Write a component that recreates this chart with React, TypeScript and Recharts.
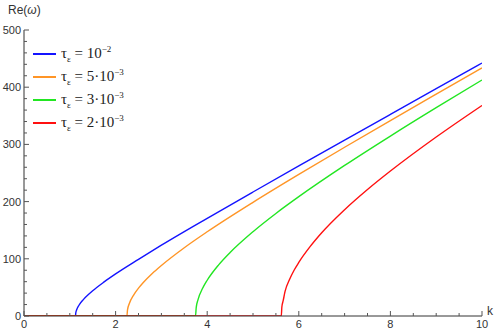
import { LineChart, Line, XAxis, YAxis } from "recharts";

// Re(ω) vs k
const kBlue = [0, 1.124, 1.13, 1.15, 1.2, 1.3, 1.4, 1.5, 1.75, 2, 2.5, 3, 4, 5, 6, 7, 8, 9, 10];
const reBlue = [0, 0, 5.2, 10.9, 18.8, 29.1, 37.1, 44.2, 59.6, 73.6, 99.1, 123.8, 170.8, 216.8, 262.3, 307.5, 352.5, 397.4, 442.2];

const kOrange = [0, 2.247, 2.26, 2.3, 2.4, 2.5, 2.6, 2.8, 3, 3.5, 4, 5, 6, 7, 8, 9, 10];
const reOrange = [0, 0, 10.8, 21.8, 37.5, 48.8, 58.2, 74.4, 88.4, 119.4, 147.3, 198.8, 247.6, 295.0, 341.7, 387.8, 433.6];

const kGreen = [0, 3.745, 3.76, 3.8, 3.9, 4, 4.25, 4.5, 5, 5.5, 6, 7, 8, 9, 10];
const reGreen = [0, 0, 14.6, 28.6, 48.4, 62.5, 89.4, 111.0, 147.4, 179.3, 208.6, 263.2, 314.6, 364.2, 412.6];

const kRed = [0, 5.618, 5.63, 5.66, 5.7, 5.8, 5.9, 6, 6.25, 6.5, 7, 7.5, 8, 9, 10];
const reRed = [0, 0, 15.8, 27.2, 42.9, 64.2, 80.4, 93.7, 121.6, 145.5, 185.8, 221.1, 253.4, 312.9, 368.1];

const xTicks = [0, 0.5, 1, 1.5, 2, 2.5, 3, 3.5, 4, 4.5, 5, 5.5, 6, 6.5, 7, 7.5, 8, 8.5, 9, 9.5, 10];
const yTicks = [
  0, 20, 40, 60, 80, 100, 120, 140, 160, 180, 200, 220, 240, 260, 280, 300, 320, 340, 360, 380, 400,
  420, 440, 460, 480, 500,
];

const legendExps = ["10", "5·10", "3·10", "2·10"];
const legendPows = ["−2", "−3", "−3", "−3"];

const colors = ["#1414ff", "#ff9526", "#22e622", "#ff1010"];

const toPoints = (ks: number[], vs: number[]) => ks.map((k, i) => ({ k, re: vs[i] }));

const series = [
  toPoints(kBlue, reBlue),
  toPoints(kOrange, reOrange),
  toPoints(kGreen, reGreen),
  toPoints(kRed, reRed),
];

const tickFont = { fontFamily: "'Liberation Sans', Arial, sans-serif", fontSize: 11, fill: "#333" };

function XTick(props: any) {
  const { x, y, payload } = props;
  const v = payload.value;
  const major = v % 2 === 0;
  return (
    <g>
      <line x1={x} x2={x} y1={y} y2={y - (major ? 5 : 3)} stroke="#555" strokeWidth={1} />
      {major && (
        <text x={x} y={y + 12} textAnchor="middle" {...tickFont}>
          {v}
        </text>
      )}
    </g>
  );
}

function YTick(props: any) {
  const { x, y, payload } = props;
  const v = payload.value;
  const major = v % 100 === 0;
  return (
    <g>
      <line x1={x} x2={x + (major ? 5 : 3)} y1={y} y2={y} stroke="#555" strokeWidth={1} />
      {major && (
        <text x={x - 3} y={y + 4} textAnchor="end" {...tickFont}>
          {v}
        </text>
      )}
    </g>
  );
}

export default function App() {
  return (
    <div style={{ position: "absolute", left: 0, top: 0, width: 503, height: 334, background: "#fff" }}>
      <LineChart width={503} height={334} margin={{ top: 30, right: 21, left: 0, bottom: 0 }}>
        <XAxis
          type="number"
          dataKey="k"
          domain={[0, 10]}
          ticks={xTicks}
          interval={0}
          tickSize={0}
          tickMargin={0}
          tick={<XTick />}
          axisLine={{ stroke: "#333" }}
          height={18}
          allowDataOverflow
        />
        <YAxis
          type="number"
          domain={[0, 500]}
          ticks={yTicks}
          interval={0}
          tickSize={0}
          tickMargin={0}
          tick={<YTick />}
          axisLine={{ stroke: "#333" }}
          width={24}
          allowDataOverflow
        />
        {series.map((d, i) => (
          <Line
            key={i}
            data={d}
            dataKey="re"
            type="monotone"
            stroke={colors[i]}
            strokeWidth={1.4}
            dot={false}
            activeDot={false}
            isAnimationActive={false}
          />
        ))}
      </LineChart>

      <div
        style={{
          position: "absolute",
          left: 8,
          top: 3,
          fontFamily: "'Liberation Sans', Arial, sans-serif",
          fontSize: 12,
          color: "#333",
        }}
      >
        Re(<i>ω</i>)
      </div>
      <div
        style={{
          position: "absolute",
          left: 487,
          top: 304,
          fontFamily: "'Liberation Sans', Arial, sans-serif",
          fontSize: 12,
          color: "#333",
        }}
      >
        k
      </div>

      <div style={{ position: "absolute", left: 33, top: 42 }}>
        {legendExps.map((e, i) => (
          <div
            key={i}
            style={{
              display: "flex",
              alignItems: "center",
              height: 23,
              fontFamily: "'Liberation Serif', 'Times New Roman', serif",
              fontSize: 15,
              color: "#222",
              whiteSpace: "nowrap",
            }}
          >
            <div style={{ width: 23, height: 2, background: colors[i], marginRight: 5 }} />
            <span>
              τ<sub style={{ fontSize: 9 }}>ε</sub> = {e}
              <sup style={{ fontSize: 9 }}>{legendPows[i]}</sup>
            </span>
          </div>
        ))}
      </div>
    </div>
  );
}
